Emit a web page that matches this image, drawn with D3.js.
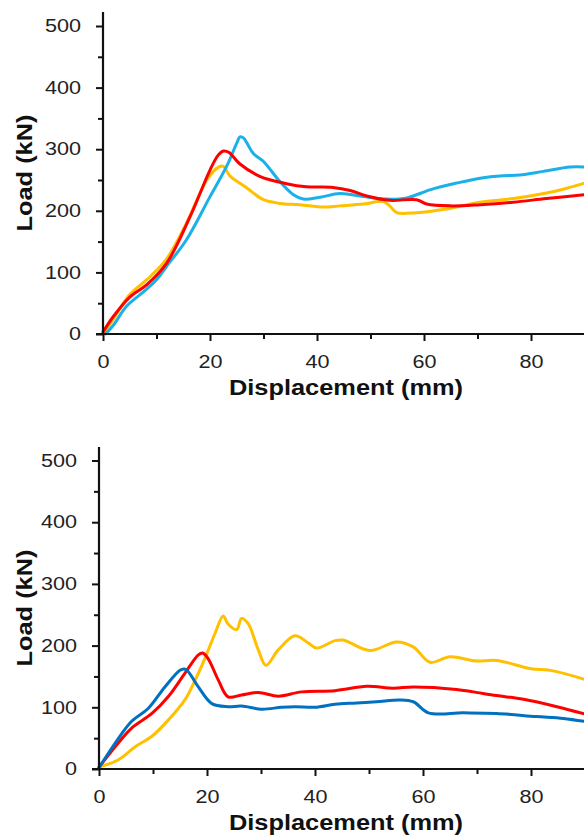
<!DOCTYPE html>
<html><head><meta charset="utf-8">
<script src="https://cdn.jsdelivr.net/npm/d3@7/dist/d3.min.js"></script>
<style>html,body{margin:0;padding:0;background:#fff;}svg{display:block;}</style>
</head><body>
<svg id="chart" width="584" height="837"></svg>
<script>
// ---- Data ----
const xTicks = [0, 20, 40, 60, 80];
const xMinor = [10, 30, 50, 70, 90];
const yTicks = [0, 100, 200, 300, 400, 500];
const yMinor = [50, 150, 250, 350, 450];
const xTitle = "Displacement (mm)";
const yTitle = "Load (kN)";

// Top panel series: [displacement mm, load kN]
const topBlue = [[0.5,0],[2,15],[4.4,45],[7.5,68],[10,88],[11.9,110],[15.6,153],[20,223],[23.1,272],[25,310],[25.6,320],[26.3,318],[26.9,310],[28.1,293],[30,280],[33.1,247],[35.6,226],[37.4,219],[40.6,222],[44.3,228],[48.7,223],[53,219],[56.8,221],[61.1,234],[66.1,245],[70.5,253],[74.8,257],[77.9,258],[82.3,264],[87.3,271],[90,271]];
const topRed = [[0,3],[1.9,28],[5,60],[8.2,80],[11.9,115],[16.3,191],[20,266],[21.5,290],[22.5,297],[23.5,295],[25.6,276],[29.3,256],[34.3,244],[38,239],[43,238],[46.2,233],[49.3,224],[53.6,217],[58.6,218],[60.5,211],[64.9,208],[70.5,210],[76.7,214],[82.9,220],[90,226]];
const topYellow = [[0,0],[2,25],[5,64],[8.8,93],[11.9,122],[15.6,180],[19.4,250],[21.6,271],[22.5,272],[23.7,257],[26.9,237],[30,218],[33.1,212],[36.8,210],[41.2,206],[44.3,208],[48.7,211],[52.4,215],[53.6,208],[54.9,197],[58.6,197],[64.2,203],[70.5,214],[76.7,220],[82.9,229],[86,235],[90,245]];

// Bottom panel series
const botBlue = [[0,2],[3,42],[6,77],[9.1,98],[12.2,133],[15,160],[15.8,162],[16.5,158],[18.4,133],[20.9,106],[23.9,101],[26.4,102],[30.1,97],[33.8,100],[36.3,101],[40,100],[43.7,105],[47.7,107],[51.4,109],[55.7,112],[58.2,109],[61,91],[67.5,91],[73.6,90],[81,85],[86,82],[90,77]];
const botRed = [[0,3],[3,36],[6,66],[9.8,90],[12.8,117],[15.9,155],[18.4,185],[19.2,188],[20.2,179],[22.1,144],[23.9,117],[26.4,120],[29.5,124],[33.2,118],[37.5,125],[43.7,127],[49.6,134],[54.5,131],[58.2,133],[66.2,129],[69.3,125],[73.6,119],[78.6,113],[84.8,101],[90,89]];
const botYellow = [[0,3],[3.6,15],[6.7,36],[9.8,53],[12.8,79],[15.9,112],[17.8,144],[19.6,179],[21.5,220],[23,248],[23.9,235],[25.5,226],[26.4,244],[27.6,236],[29.5,193],[30.9,168],[33.2,193],[36.3,216],[38.8,204],[40.3,196],[43.7,208],[45.2,209],[50.2,192],[55.1,206],[58.2,198],[61.3,173],[65,182],[69.9,175],[73.6,176],[79.8,163],[84.1,159],[90,145]];

const panels = [
  {x0:103, x1:638, y0:334, y500:26, yTop:12, titleY:395, ylabX:32, series:[
    {d: topYellow, c:"#FFC000"}, {d: topBlue, c:"#1AB0EA"}, {d: topRed, c:"#FF0000"}]},
  {x0:99, x1:639, y0:769, y500:460.5, yTop:447, titleY:830, ylabX:32, series:[
    {d: botYellow, c:"#FFC000"}, {d: botRed, c:"#FF0000"}, {d: botBlue, c:"#0070C0"}]}
];

const svg = d3.select("#chart");
const FONT = "'Liberation Sans', Arial, Helvetica, sans-serif";

panels.forEach(p => {
  const x = d3.scaleLinear().domain([0, 100]).range([p.x0, p.x1]);
  const y = d3.scaleLinear().domain([0, 500]).range([p.y0, p.y500]);
  const g = svg.append("g");

  // curves
  const line = d3.line().x(d => x(d[0])).y(d => y(d[1])).curve(d3.curveCatmullRom.alpha(0.5));
  p.series.forEach(s => {
    g.append("path").attr("d", line(s.d)).attr("fill", "none")
      .attr("stroke", s.c).attr("stroke-width", 3).attr("stroke-linejoin", "round").attr("stroke-linecap", "round");
  });

  // minor ticks
  const yMinorAxis = d3.axisLeft(y).tickValues(yMinor).tickSize(5).tickFormat("");
  g.append("g").attr("transform", `translate(${p.x0},0)`).call(yMinorAxis)
    .call(a => a.select(".domain").remove())
    .call(a => a.selectAll("line").attr("stroke", "#111").attr("stroke-width", 2));
  const xMinorAxis = d3.axisBottom(x).tickValues(xMinor).tickSize(5).tickFormat("");
  g.append("g").attr("transform", `translate(0,${p.y0})`).call(xMinorAxis)
    .call(a => a.select(".domain").remove())
    .call(a => a.selectAll("line").attr("stroke", "#111").attr("stroke-width", 2));

  // major y axis
  const yAxis = d3.axisLeft(y).tickValues(yTicks).tickSize(7).tickPadding(15).tickFormat(d3.format("d"));
  g.append("g").attr("transform", `translate(${p.x0},0)`).call(yAxis)
    .call(a => a.select(".domain").remove())
    .call(a => a.selectAll("line").attr("stroke", "#111").attr("stroke-width", 2))
    .call(a => a.selectAll("text").attr("font-family", FONT).attr("font-size", 18).attr("fill", "#222")
      .attr("textLength", d => String(d).length * 12).attr("lengthAdjust", "spacingAndGlyphs"));

  // major x axis
  const xAxis = d3.axisBottom(x).tickValues(xTicks).tickSize(7).tickPadding(14).tickFormat(d3.format("d"));
  g.append("g").attr("transform", `translate(0,${p.y0})`).call(xAxis)
    .call(a => a.select(".domain").remove())
    .call(a => a.selectAll("line").attr("stroke", "#111").attr("stroke-width", 2))
    .call(a => a.selectAll("text").attr("font-family", FONT).attr("font-size", 18).attr("fill", "#222")
      .attr("textLength", d => String(d).length * 12).attr("lengthAdjust", "spacingAndGlyphs"));

  // axis lines
  g.append("line").attr("x1", p.x0).attr("x2", p.x0).attr("y1", p.yTop).attr("y2", p.y0 + 1)
    .attr("stroke", "#111").attr("stroke-width", 2.2);
  g.append("line").attr("x1", p.x0 - 7).attr("x2", 584).attr("y1", p.y0).attr("y2", p.y0)
    .attr("stroke", "#111").attr("stroke-width", 2.2);

  // titles
  g.append("text").attr("x", 346).attr("y", p.titleY).attr("text-anchor", "middle")
    .attr("font-family", FONT).attr("font-weight", "bold").attr("font-size", 22).attr("fill", "#111")
    .attr("textLength", 234).attr("lengthAdjust", "spacingAndGlyphs").text(xTitle);
  const ymid = (p.yTop + p.y0) / 2;
  g.append("text").attr("transform", `translate(${p.ylabX},${ymid}) rotate(-90)`).attr("text-anchor", "middle")
    .attr("font-family", FONT).attr("font-weight", "bold").attr("font-size", 22).attr("fill", "#111")
    .attr("textLength", 117).attr("lengthAdjust", "spacingAndGlyphs").text(yTitle);
});
</script>
</body></html>
